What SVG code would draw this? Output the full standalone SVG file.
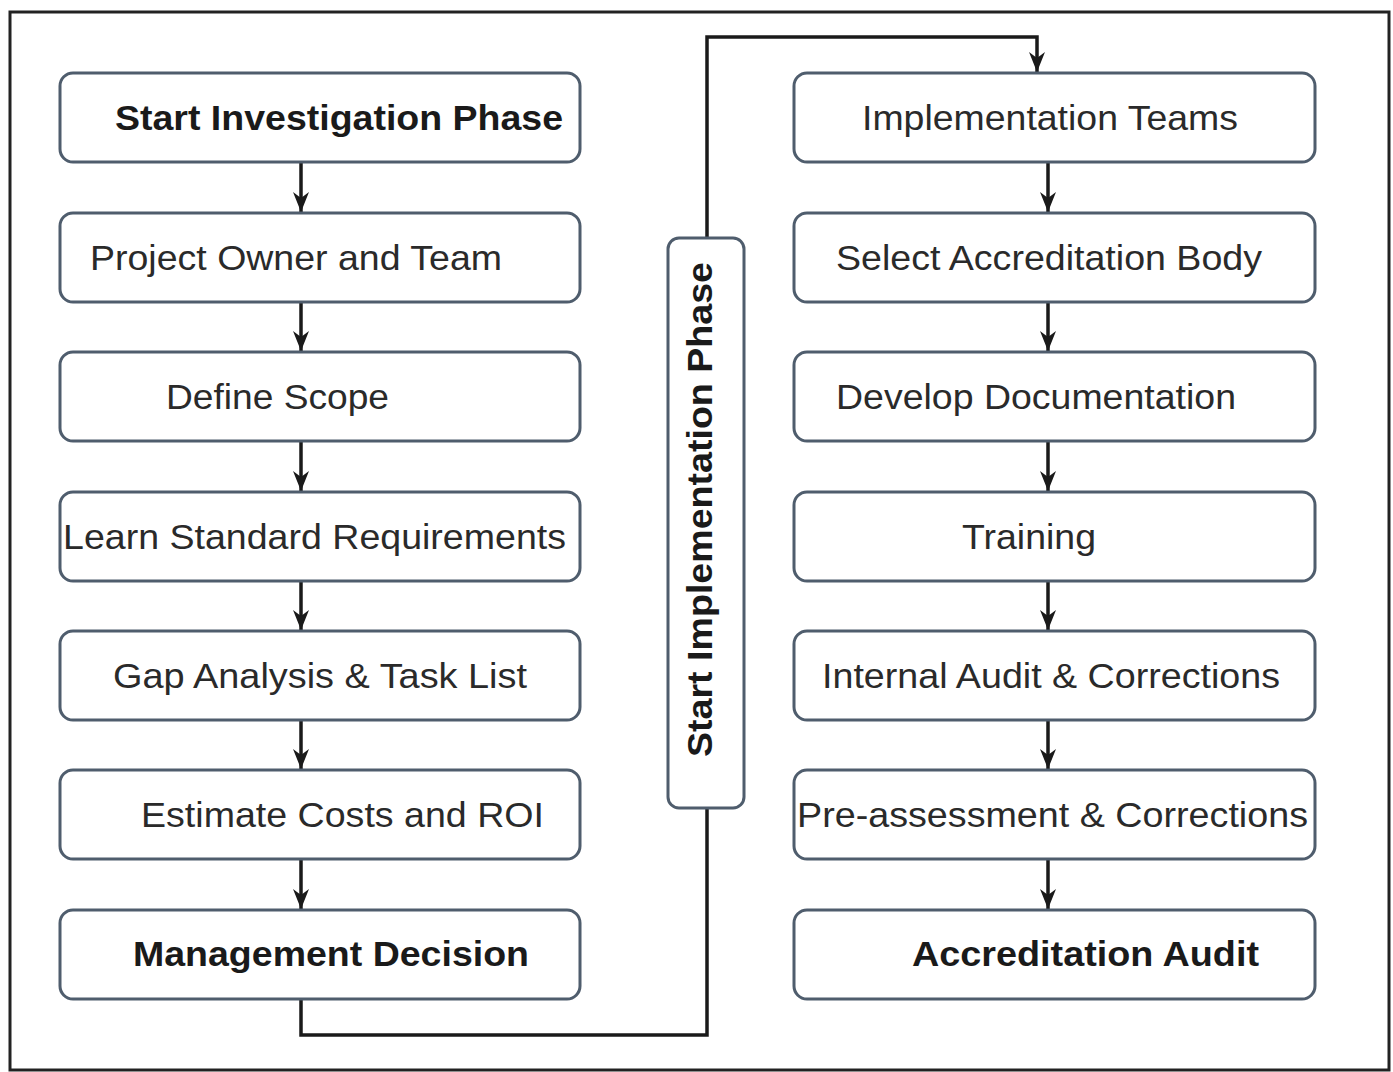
<svg xmlns="http://www.w3.org/2000/svg" width="1393" height="1072" viewBox="0 0 1393 1072">
<defs>
<style>
.box{fill:#fff;stroke:#4f5d6d;stroke-width:3}
.t{font-family:"Liberation Sans",Arial,sans-serif;font-size:35px;fill:#2a2a2a}
.b{font-family:"Liberation Sans",Arial,sans-serif;font-size:35px;font-weight:bold;fill:#1a1a1a}
.c{fill:none;stroke:#1a1a1a;stroke-width:3.5}
</style>
<marker id="ah" viewBox="0 0 20 16" refX="20" refY="8" markerWidth="20" markerHeight="16" markerUnits="userSpaceOnUse" orient="auto">
<path d="M0,0 L20,8 L0,16 L6,8 Z" fill="#1a1a1a"/>
</marker>
</defs>
<rect x="0" y="0" width="1393" height="1072" fill="#fff"/>
<rect id="frame" x="10" y="12" width="1379" height="1058" fill="none" stroke="#222" stroke-width="3"/>

<g id="connectors">
<line class="c" x1="301" y1="163" x2="301" y2="212" marker-end="url(#ah)"/>
<line class="c" x1="301" y1="303" x2="301" y2="351" marker-end="url(#ah)"/>
<line class="c" x1="301" y1="442" x2="301" y2="491" marker-end="url(#ah)"/>
<line class="c" x1="301" y1="582" x2="301" y2="630" marker-end="url(#ah)"/>
<line class="c" x1="301" y1="721" x2="301" y2="769" marker-end="url(#ah)"/>
<line class="c" x1="301" y1="860" x2="301" y2="909" marker-end="url(#ah)"/>
<line class="c" x1="1048" y1="163" x2="1048" y2="212" marker-end="url(#ah)"/>
<line class="c" x1="1048" y1="303" x2="1048" y2="351" marker-end="url(#ah)"/>
<line class="c" x1="1048" y1="442" x2="1048" y2="491" marker-end="url(#ah)"/>
<line class="c" x1="1048" y1="582" x2="1048" y2="630" marker-end="url(#ah)"/>
<line class="c" x1="1048" y1="721" x2="1048" y2="769" marker-end="url(#ah)"/>
<line class="c" x1="1048" y1="860" x2="1048" y2="909" marker-end="url(#ah)"/>
<polyline class="c" points="301,1000 301,1035 707,1035 707,809"/>
<polyline class="c" points="707,237 707,37 1037,37 1037,72" marker-end="url(#ah)"/>
</g>

<g id="n1"><rect class="box" x="60" y="73" width="520" height="89" rx="13"/><text class="b" x="115" y="130" textLength="448" lengthAdjust="spacingAndGlyphs">Start Investigation Phase</text></g>
<g id="n2"><rect class="box" x="60" y="213" width="520" height="89" rx="13"/><text class="t" x="90" y="270" textLength="412" lengthAdjust="spacingAndGlyphs">Project Owner and Team</text></g>
<g id="n3"><rect class="box" x="60" y="352" width="520" height="89" rx="13"/><text class="t" x="166" y="409" textLength="223" lengthAdjust="spacingAndGlyphs">Define Scope</text></g>
<g id="n4"><rect class="box" x="60" y="492" width="520" height="89" rx="13"/><text class="t" x="63" y="549" textLength="503" lengthAdjust="spacingAndGlyphs">Learn Standard Requirements</text></g>
<g id="n5"><rect class="box" x="60" y="631" width="520" height="89" rx="13"/><text class="t" x="113" y="688" textLength="414" lengthAdjust="spacingAndGlyphs">Gap Analysis &amp; Task List</text></g>
<g id="n6"><rect class="box" x="60" y="770" width="520" height="89" rx="13"/><text class="t" x="141" y="827" textLength="403" lengthAdjust="spacingAndGlyphs">Estimate Costs and ROI</text></g>
<g id="n7"><rect class="box" x="60" y="910" width="520" height="89" rx="13"/><text class="b" x="133" y="966" textLength="396" lengthAdjust="spacingAndGlyphs">Management Decision</text></g>

<g id="n8"><rect class="box" x="668" y="238" width="76" height="570" rx="11"/><text class="b" transform="translate(712,757) rotate(-90)" x="0" y="0" textLength="495" lengthAdjust="spacingAndGlyphs">Start Implementation Phase</text></g>

<g id="n9"><rect class="box" x="794" y="73" width="521" height="89" rx="13"/><text class="t" x="862" y="130" textLength="376" lengthAdjust="spacingAndGlyphs">Implementation Teams</text></g>
<g id="n10"><rect class="box" x="794" y="213" width="521" height="89" rx="13"/><text class="t" x="836" y="270" textLength="426" lengthAdjust="spacingAndGlyphs">Select Accreditation Body</text></g>
<g id="n11"><rect class="box" x="794" y="352" width="521" height="89" rx="13"/><text class="t" x="836" y="409" textLength="400" lengthAdjust="spacingAndGlyphs">Develop Documentation</text></g>
<g id="n12"><rect class="box" x="794" y="492" width="521" height="89" rx="13"/><text class="t" x="962" y="549" textLength="134" lengthAdjust="spacingAndGlyphs">Training</text></g>
<g id="n13"><rect class="box" x="794" y="631" width="521" height="89" rx="13"/><text class="t" x="822" y="688" textLength="458" lengthAdjust="spacingAndGlyphs">Internal Audit &amp; Corrections</text></g>
<g id="n14"><rect class="box" x="794" y="770" width="521" height="89" rx="13"/><text class="t" x="797" y="827" textLength="511" lengthAdjust="spacingAndGlyphs">Pre-assessment &amp; Corrections</text></g>
<g id="n15"><rect class="box" x="794" y="910" width="521" height="89" rx="13"/><text class="b" x="912" y="966" textLength="347" lengthAdjust="spacingAndGlyphs">Accreditation Audit</text></g>
</svg>
